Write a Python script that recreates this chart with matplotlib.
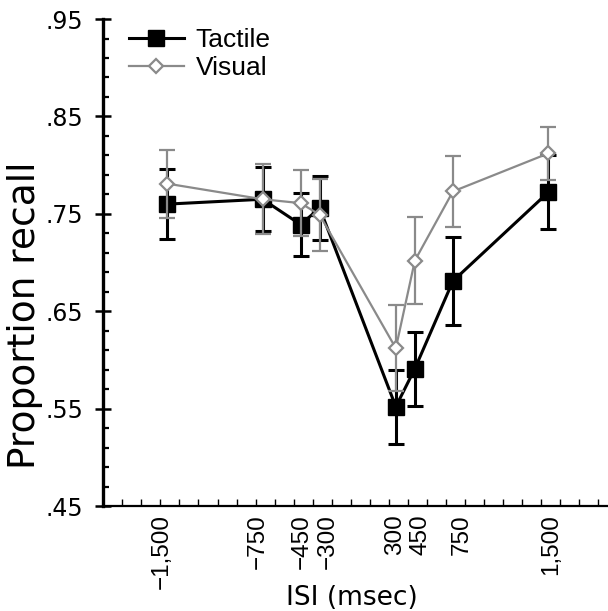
import numpy as np
import matplotlib
matplotlib.use("Agg")
import matplotlib.pyplot as plt
from matplotlib.ticker import FixedLocator, NullFormatter

# ---- data ----
isi = [-1500, -750, -450, -300, 300, 450, 750, 1500]
isi_labels = ["\u22121,500", "\u2212750", "\u2212450", "\u2212300", "300", "450", "750", "1,500"]
tactile = [0.760, 0.765, 0.739, 0.756, 0.552, 0.591, 0.681, 0.772]
tactile_err = [0.036, 0.033, 0.032, 0.033, 0.038, 0.038, 0.045, 0.038]
visual = [0.781, 0.765, 0.761, 0.749, 0.612, 0.702, 0.773, 0.812]
visual_err = [0.035, 0.036, 0.034, 0.037, 0.044, 0.045, 0.036, 0.027]
y_ticks = [0.45, 0.55, 0.65, 0.75, 0.85, 0.95]
y_tick_labels = [".45", ".55", ".65", ".75", ".85", ".95"]

# ---- layout / style ----
label_pos = [-1547, -786, -444, -240, 292, 494, 817, 1526]  # hand-placed label positions
XMIN, XMAX = -2005, 1972
GRAY = "#8a8a8a"

fig = plt.figure(figsize=(6.08, 6.11), dpi=100)
ax = fig.add_axes([0.1699, 0.1718, 0.8301, 0.797])

eb_t = ax.errorbar(isi, tactile, yerr=tactile_err, color="black", lw=2.2, elinewidth=2.2,
                   capsize=5.8, capthick=2.2, marker="s", ms=11, mfc="black", mec="black",
                   label="Tactile", zorder=3)
eb_v = ax.errorbar(isi, visual, yerr=visual_err, color=GRAY, lw=1.6, elinewidth=1.6,
                   capsize=5.8, capthick=1.6, marker="D", ms=7.5, mfc="white", mec=GRAY,
                   mew=1.6, label="Visual", zorder=4)

ax.set_xlim(XMIN, XMAX)
ax.set_ylim(0.45, 0.95)

for s in ["top", "right"]:
    ax.spines[s].set_visible(False)
ax.spines["left"].set_linewidth(2.4)
ax.spines["bottom"].set_linewidth(1.6)

# y axis ticks
ax.set_yticks(y_ticks)
ax.set_yticklabels(y_tick_labels, fontsize=17, family="DejaVu Sans")
ax.yaxis.set_minor_locator(FixedLocator(np.arange(0.47, 0.95, 0.02)))
ax.tick_params(axis="y", which="major", direction="inout", length=11, width=1.8, pad=9)
ax.tick_params(axis="y", which="minor", direction="in", length=4.5, width=1.6)

# x axis ticks
ax.xaxis.set_major_locator(FixedLocator(label_pos))
ax.set_xticklabels(isi_labels, rotation=90, fontsize=17.5, family="Liberation Sans")
ax.xaxis.set_minor_locator(FixedLocator(np.arange(XMIN + 150, XMAX, 150)))
ax.xaxis.set_minor_formatter(NullFormatter())
ax.tick_params(axis="x", which="major", length=0, pad=6)
ax.tick_params(axis="x", which="minor", direction="in", length=5, width=1.0)

ax.set_ylabel("Proportion recall", fontsize=27, family="DejaVu Sans")
ax.yaxis.set_label_coords(-0.12, 0.392)
ax.set_xlabel("ISI (msec)", fontsize=19, family="DejaVu Sans")
ax.xaxis.set_label_coords(0.493, -0.162)

leg = ax.legend(handles=[eb_t.lines[0], eb_v.lines[0]], labels=["Tactile", "Visual"],
                loc="upper left", bbox_to_anchor=(0.05, 0.982), frameon=False,
                prop={"family": "Liberation Sans", "size": 19}, handlelength=2.1,
                handletextpad=0.45, labelspacing=0.15, borderpad=0, borderaxespad=0)

fig.savefig("out.png", dpi=100)
